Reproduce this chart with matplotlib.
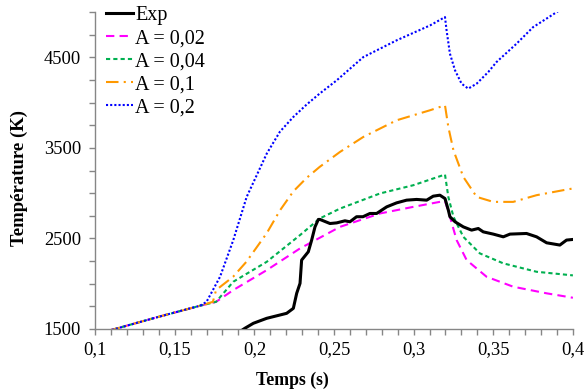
import matplotlib
matplotlib.use("Agg")
import matplotlib.pyplot as plt
from matplotlib.ticker import MultipleLocator

plt.rcParams['font.family'] = ['Liberation Serif', 'DejaVu Serif']

# Experimental curve
t_exp = [0.193, 0.1941, 0.1994, 0.2078, 0.2203, 0.2245, 0.2266, 0.2287, 0.2297, 0.2339, 0.236,
         0.2381, 0.2402, 0.2412, 0.2475, 0.2517, 0.2569, 0.260, 0.2642, 0.2682, 0.2726, 0.2768,
         0.2831, 0.2893, 0.2956, 0.3019, 0.3082, 0.3123, 0.3165, 0.3197, 0.3218, 0.3228,
         0.326, 0.3312, 0.3364, 0.3406, 0.3437, 0.350, 0.3563, 0.3605, 0.3709, 0.3772,
         0.3835, 0.3918, 0.396, 0.400]
T_exp = [1495, 1508, 1563, 1618, 1673, 1728, 1894, 2004, 2261, 2353, 2482,
         2628, 2710, 2710, 2665, 2672, 2695, 2684, 2740, 2740, 2776, 2776,
         2849, 2893, 2923, 2931, 2923, 2967, 2978, 2941, 2813, 2740,
         2684, 2628, 2592, 2610, 2573, 2548, 2518, 2548, 2555, 2518,
         2452, 2427, 2482, 2489]

# A = 0,02
t_a002 = [0.108, 0.1125, 0.14, 0.166, 0.176, 0.1868, 0.2078, 0.2287, 0.2538,
          0.2789, 0.2998, 0.3197, 0.3228, 0.327, 0.3333, 0.3458, 0.3625, 0.3835, 0.400]
T_a002 = [1480, 1500, 1635, 1757, 1800, 1930, 2150, 2390, 2628,
          2776, 2849, 2915, 2740, 2482, 2261, 2077, 1967, 1894, 1845]

# A = 0,04
t_a004 = [0.108, 0.1125, 0.14, 0.166, 0.176, 0.1868, 0.2078, 0.2287, 0.241, 0.2538,
          0.2789, 0.2998, 0.3197, 0.3218, 0.325, 0.3312, 0.3416, 0.3563, 0.3772, 0.400]
T_a004 = [1480, 1500, 1635, 1757, 1800, 2022, 2242, 2537, 2720, 2830,
          2997, 3088, 3206, 2959, 2740, 2518, 2335, 2225, 2132, 2092]

# A = 0,1
t_a01 = [0.108, 0.1125, 0.14, 0.166, 0.174, 0.176, 0.1867, 0.195, 0.2078, 0.2161,
         0.2245, 0.2329, 0.241, 0.2538, 0.2684, 0.2893, 0.3103, 0.3197, 0.3218, 0.325, 0.3312,
         0.3396, 0.350, 0.3625, 0.3772, 0.396, 0.400]
T_a01 = [1480, 1500, 1635, 1757, 1800, 1930, 2077, 2242, 2558, 2810,
         3020, 3170, 3290, 3456, 3621, 3805, 3916, 3971, 3731, 3474, 3180,
         2959, 2904, 2904, 2978, 3040, 3052]

# A = 0,2
t_a02 = [0.108, 0.1125, 0.14, 0.166, 0.170, 0.1785, 0.1868, 0.1952, 0.2078, 0.2161, 0.2245,
         0.2329, 0.241, 0.2517, 0.2684, 0.2893, 0.3103, 0.3197, 0.3207,
         0.3228, 0.326, 0.3301, 0.3343, 0.3396, 0.3469, 0.352, 0.3646, 0.375, 0.3876, 0.395]
T_a02 = [1480, 1500, 1635, 1757, 1800, 2077, 2482, 2959, 3437, 3680, 3842,
         3980, 4100, 4246, 4503, 4688, 4853, 4945, 4798,
         4541, 4357, 4210, 4155, 4210, 4339, 4448, 4651, 4834, 4975, 5060]

x_ticks = [0.1, 0.15, 0.2, 0.25, 0.3, 0.35, 0.4]
x_labels = ['0,1', '0,15', '0,2', '0,25', '0,3', '0,35', '0,4']
y_ticks = [1500, 2500, 3500, 4500]
y_labels = ['1500', '2500', '3500', '4500']

fig = plt.figure(figsize=(5.84, 3.91), dpi=100)
ax = fig.add_axes([0.1627, 0.1586, 0.8183, 0.8104])

ax.plot(t_exp, T_exp, color='black', lw=2.2, label='Exp', zorder=5)
ax.plot(t_a002, T_a002, color='#FF00FF', lw=1.5, ls=(0, (4, 2.5)), label='A = 0,02')
ax.plot(t_a004, T_a004, color='#00B050', lw=1.5, ls=(0, (2, 1.5)), label='A = 0,04')
ax.plot(t_a01, T_a01, color='#FF9900', lw=1.5, ls=(0, (6, 2.5, 1, 2.5)), label='A = 0,1')
ax.plot(t_a02, T_a02, color='#0000FF', lw=1.5, ls=(0, (1, 1)), label='A = 0,2')

ax.set_xlim(0.1, 0.4)
ax.set_ylim(1500, 5000)
ax.set_xticks(x_ticks)
ax.set_xticklabels(x_labels)
ax.xaxis.set_minor_locator(MultipleLocator(0.01))
ax.set_yticks(y_ticks)
ax.set_yticklabels(y_labels)
ax.yaxis.set_minor_locator(MultipleLocator(250))

for s in ['top', 'right']:
    ax.spines[s].set_visible(False)
for s in ['left', 'bottom']:
    ax.spines[s].set_color('#868686')
    ax.spines[s].set_linewidth(1.0)
ax.tick_params(which='both', direction='out', color='#868686', length=4, width=1.0,
               labelsize=13.3, labelcolor='black', pad=5)
ax.tick_params(axis='y', which='both', pad=6)

fig.text(0.5, 1 - 380 / 391, 'Temps (s)', fontsize=12.8, fontweight='bold',
         ha='center', va='center')
fig.text(19 / 584, 1 - 177.5 / 391, 'Température (K)', fontsize=13.5, fontweight='bold',
         ha='center', va='center', rotation=90)

leg = ax.legend(loc='upper left', bbox_to_anchor=(0.1815, 0.985), bbox_transform=fig.transFigure,
                frameon=False, fontsize=14.5, handlelength=1.35, handletextpad=0.1,
                labelspacing=0.2, borderaxespad=0, borderpad=0)

fig.savefig('out.png', dpi=100)
